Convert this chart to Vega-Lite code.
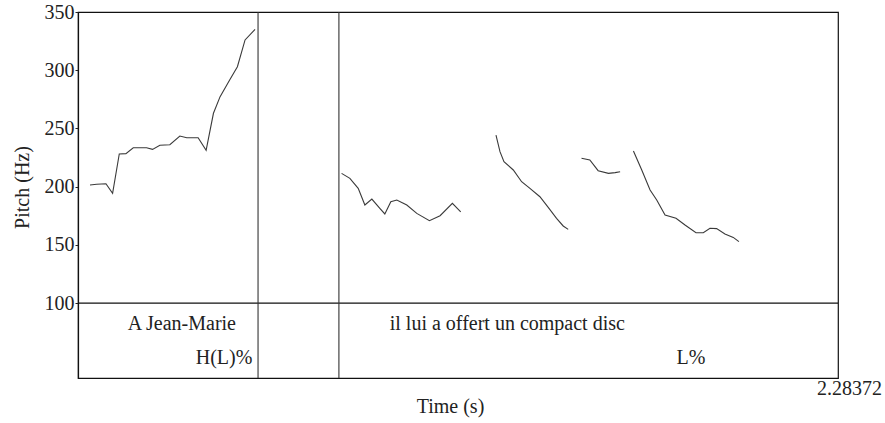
{
  "$schema": "https://vega.github.io/schema/vega-lite/v6.json",
  "width": 760,
  "height": 366,
  "autosize": "none",
  "padding": {"left": 78, "top": 12, "right": 47, "bottom": 45},
  "background": "white",
  "config": {
    "font": "Liberation Serif",
    "view": {"stroke": "#111", "strokeWidth": 1.2},
    "axis": {"labelFont": "Liberation Serif", "titleFont": "Liberation Serif", "labelColor": "#222", "titleColor": "#222", "grid": false}
  },
  "datasets": {
    "pitch": [
      {"seg": 1, "t": 0.036, "f0": 201.4},
      {"seg": 1, "t": 0.056, "f0": 202.0},
      {"seg": 1, "t": 0.084, "f0": 202.5},
      {"seg": 1, "t": 0.104, "f0": 194.2},
      {"seg": 1, "t": 0.124, "f0": 228.0},
      {"seg": 1, "t": 0.144, "f0": 228.3},
      {"seg": 1, "t": 0.166, "f0": 233.4},
      {"seg": 1, "t": 0.206, "f0": 233.4},
      {"seg": 1, "t": 0.224, "f0": 232.0},
      {"seg": 1, "t": 0.246, "f0": 235.5},
      {"seg": 1, "t": 0.276, "f0": 236.0},
      {"seg": 1, "t": 0.306, "f0": 243.5},
      {"seg": 1, "t": 0.327, "f0": 242.0},
      {"seg": 1, "t": 0.361, "f0": 242.0},
      {"seg": 1, "t": 0.385, "f0": 231.2},
      {"seg": 1, "t": 0.407, "f0": 263.0},
      {"seg": 1, "t": 0.427, "f0": 277.3},
      {"seg": 1, "t": 0.457, "f0": 292.2},
      {"seg": 1, "t": 0.479, "f0": 303.0},
      {"seg": 1, "t": 0.502, "f0": 326.0},
      {"seg": 1, "t": 0.532, "f0": 335.0},
      {"seg": 2, "t": 0.792, "f0": 211.4},
      {"seg": 2, "t": 0.817, "f0": 207.1},
      {"seg": 2, "t": 0.842, "f0": 198.5},
      {"seg": 2, "t": 0.862, "f0": 184.2},
      {"seg": 2, "t": 0.883, "f0": 189.3},
      {"seg": 2, "t": 0.907, "f0": 181.3},
      {"seg": 2, "t": 0.922, "f0": 176.5},
      {"seg": 2, "t": 0.940, "f0": 187.0},
      {"seg": 2, "t": 0.958, "f0": 188.5},
      {"seg": 2, "t": 0.988, "f0": 184.2},
      {"seg": 2, "t": 1.018, "f0": 177.0},
      {"seg": 2, "t": 1.056, "f0": 170.7},
      {"seg": 2, "t": 1.088, "f0": 175.0},
      {"seg": 2, "t": 1.125, "f0": 185.6},
      {"seg": 2, "t": 1.150, "f0": 178.4},
      {"seg": 3, "t": 1.256, "f0": 244.3},
      {"seg": 3, "t": 1.268, "f0": 230.0},
      {"seg": 3, "t": 1.280, "f0": 221.4},
      {"seg": 3, "t": 1.308, "f0": 214.3},
      {"seg": 3, "t": 1.333, "f0": 204.2},
      {"seg": 3, "t": 1.358, "f0": 198.5},
      {"seg": 3, "t": 1.388, "f0": 191.3},
      {"seg": 3, "t": 1.413, "f0": 182.2},
      {"seg": 3, "t": 1.438, "f0": 172.8},
      {"seg": 3, "t": 1.458, "f0": 166.2},
      {"seg": 3, "t": 1.473, "f0": 163.3},
      {"seg": 4, "t": 1.513, "f0": 224.3},
      {"seg": 4, "t": 1.538, "f0": 222.9},
      {"seg": 4, "t": 1.563, "f0": 213.7},
      {"seg": 4, "t": 1.594, "f0": 211.4},
      {"seg": 4, "t": 1.614, "f0": 212.0},
      {"seg": 4, "t": 1.629, "f0": 212.8},
      {"seg": 5, "t": 1.669, "f0": 230.6},
      {"seg": 5, "t": 1.694, "f0": 214.3},
      {"seg": 5, "t": 1.719, "f0": 197.1},
      {"seg": 5, "t": 1.739, "f0": 188.5},
      {"seg": 5, "t": 1.764, "f0": 175.6},
      {"seg": 5, "t": 1.797, "f0": 172.8},
      {"seg": 5, "t": 1.824, "f0": 167.0},
      {"seg": 5, "t": 1.857, "f0": 160.4},
      {"seg": 5, "t": 1.879, "f0": 160.4},
      {"seg": 5, "t": 1.899, "f0": 164.2},
      {"seg": 5, "t": 1.919, "f0": 163.9},
      {"seg": 5, "t": 1.944, "f0": 159.3},
      {"seg": 5, "t": 1.969, "f0": 156.4},
      {"seg": 5, "t": 1.986, "f0": 152.7}
    ],
    "boundaries": [
      {"t": 0.541},
      {"t": 0.784}
    ],
    "labels": [
      {"t": 0.312, "tier": "words", "label": "A Jean-Marie", "anchor": "center"},
      {"t": 1.290, "tier": "words", "label": "il lui a offert un compact disc", "anchor": "center"},
      {"t": 0.524, "tier": "tones", "label": "H(L)%", "anchor": "right"},
      {"t": 1.842, "tier": "tones", "label": "L%", "anchor": "center"}
    ]
  },
  "layer": [
    {
      "data": {"name": "pitch"},
      "mark": {"type": "line", "stroke": "#3a3a3a", "strokeWidth": 1.1},
      "encoding": {
        "x": {
          "field": "t", "type": "quantitative",
          "scale": {"domain": [0, 2.28372], "nice": false, "zero": false},
          "axis": {
            "values": [2.28372], "format": ".5f", "ticks": false, "domain": false,
            "labelFontSize": 20, "labelPadding": 0, "labelFlush": false, "labelOffset": 11, "labelDy": -2,
            "title": "Time (s)", "titleFontSize": 20, "titleFontWeight": "normal", "titlePadding": -2, "titleX": 372
          }
        },
        "y": {
          "field": "f0", "type": "quantitative",
          "scale": {"domain": [35.6, 350], "nice": false, "zero": false},
          "axis": {
            "values": [100, 150, 200, 250, 300, 350], "tickSize": 3, "tickColor": "#222",
            "domainColor": "#111", "domainWidth": 1.2,
            "labelFontSize": 20, "labelPadding": 1,
            "title": "Pitch (Hz)", "titleFontSize": 20, "titleFontWeight": "normal", "titlePadding": 12, "titleY": 175
          }
        },
        "detail": {"field": "seg", "type": "nominal"}
      }
    },
    {
      "data": {"values": [{"f0": 100}]},
      "mark": {"type": "rule", "stroke": "#111", "strokeWidth": 1.2},
      "encoding": {
        "y": {"field": "f0", "type": "quantitative", "scale": {"domain": [35.6, 350], "nice": false, "zero": false}, "axis": null}
      }
    },
    {
      "data": {"name": "boundaries"},
      "mark": {"type": "rule", "stroke": "#333", "strokeWidth": 1.1},
      "encoding": {"x": {"field": "t", "type": "quantitative"}}
    },
    {
      "data": {"name": "labels"},
      "transform": [{"filter": "datum.anchor === 'center'"}],
      "mark": {"type": "text", "fontSize": 20, "color": "#222", "align": "center", "baseline": "middle"},
      "encoding": {
        "x": {"field": "t", "type": "quantitative"},
        "y": {"field": "tier", "type": "ordinal", "scale": {"type": "point", "domain": ["words", "tones"], "range": [312, 346], "padding": 0}, "axis": null},
        "text": {"field": "label"}
      }
    },
    {
      "data": {"name": "labels"},
      "transform": [{"filter": "datum.anchor === 'right'"}],
      "mark": {"type": "text", "fontSize": 20, "color": "#222", "align": "right", "baseline": "middle"},
      "encoding": {
        "x": {"field": "t", "type": "quantitative"},
        "y": {"field": "tier", "type": "ordinal", "scale": {"type": "point", "domain": ["words", "tones"], "range": [312, 346], "padding": 0}, "axis": null},
        "text": {"field": "label"}
      }
    }
  ],
  "resolve": {"scale": {"y": "independent"}}
}
